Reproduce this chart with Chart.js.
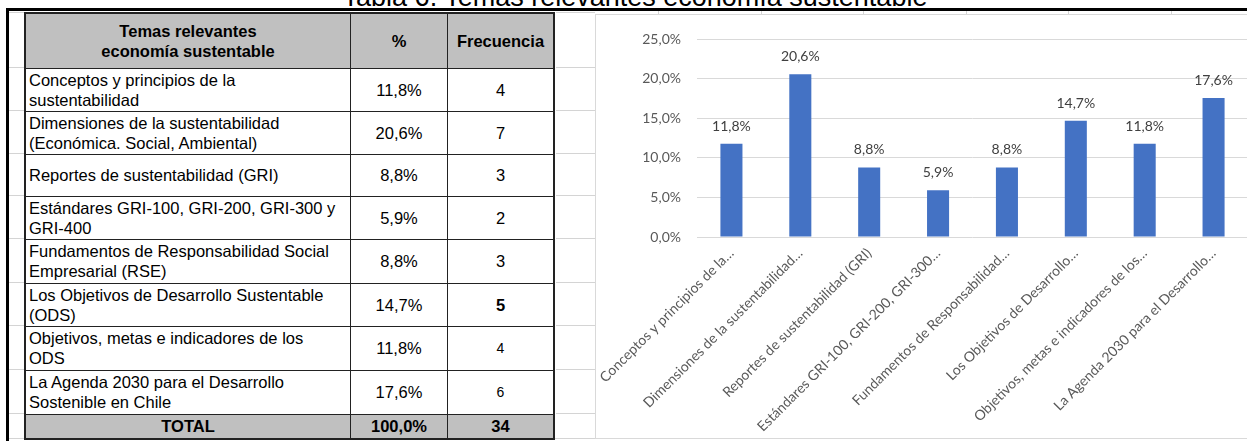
<!DOCTYPE html>
<html>
<head>
<meta charset="utf-8">
<script src="https://cdn.jsdelivr.net/npm/chart.js@4.4.1/dist/chart.umd.min.js"></script>
<style>
html, body { margin: 0; padding: 0; background: #fff; }
body { width: 1247px; height: 441px; position: relative; overflow: hidden; font-family: "Liberation Sans", Arial, sans-serif; }
#title { position: absolute; left: 0; width: 1270px; top: -16px; text-align: center; font-size: 27px; line-height: 27px; color: #000; }
#hline { position: absolute; left: 6px; top: 8px; width: 1241px; height: 3px; background: #000; }
#vline { position: absolute; left: 6px; top: 8px; width: 3px; height: 433px; background: #000; }
.xl { position: absolute; background: #d4d4d4; }
#tbl { position: absolute; left: 24px; top: 12px; border-collapse: collapse; border: 2px solid #222; font-size: 16.5px; color: #000; }
#tbl td { border: 1px solid #222; padding: 0 3px; line-height: 20px; }
#tbl td.num { text-align: center; }
#tbl tr.head td, #tbl tr.total td { background: #c0c0c0; font-weight: bold; text-align: center; }
#tbl td.topic { white-space: pre-line; }
#box { position: absolute; left: 595px; top: 14px; width: 660px; height: 423px; border: 1px solid #d9d9d9; background: #fff; }
</style>
</head>
<body>
<div id="title">Tabla 6. Temas relevantes economía sustentable</div>
<div id="hline"></div>
<div id="vline"></div>
<div id="grid"></div>
<table id="tbl"></table>
<div id="box"><canvas id="temasChart" width="652" height="423"></canvas></div>

<script>
// datos de la tabla y del grafico
const topics = [
    'Conceptos y principios de la\nsustentabilidad',
    'Dimensiones de la sustentabilidad\n(Económica. Social, Ambiental)',
    'Reportes de sustentabilidad (GRI)',
    'Estándares GRI-100, GRI-200, GRI-300 y\nGRI-400',
    'Fundamentos de Responsabilidad Social\nEmpresarial (RSE)',
    'Los Objetivos de Desarrollo Sustentable\n(ODS)',
    'Objetivos, metas e indicadores de los\nODS',
    'La Agenda 2030 para el Desarrollo\nSostenible en Chile'
];
const chartLabels = [
    'Conceptos y principios de la…',
    'Dimensiones de la sustentabilidad…',
    'Reportes de sustentabilidad (GRI)',
    'Estándares GRI-100, GRI-200, GRI-300…',
    'Fundamentos de Responsabilidad…',
    'Los Objetivos de Desarrollo…',
    'Objetivos, metas e indicadores de los…',
    'La Agenda 2030 para el Desarrollo…'
];
const percentages = [11.8, 20.6, 8.8, 5.9, 8.8, 14.7, 11.8, 17.6];
const frequencies = [4, 7, 3, 2, 3, 5, 4, 6];
const totalPct = 100.0;
const totalFreq = 34;
const yTicks = [0, 5, 10, 15, 20, 25];

const fmt = v => v.toFixed(1).replace('.', ',') + '%';

// Build table
const rowHeights = [55, 43, 43, 42, 43, 44, 43, 44, 44, 25];
const tbl = document.getElementById('tbl');
let html = `<tr class="head" style="height:${rowHeights[0]}px">
    <td style="width:318px">Temas relevantes<br>economía sustentable</td>
    <td style="width:90px">%</td>
    <td style="width:99px">Frecuencia</td></tr>`;
topics.forEach((t, i) => {
    let fStyle = '';
    if (i === 5) fStyle = 'font-weight:bold';
    if (i >= 6) fStyle = 'font-size:14px';
    html += `<tr style="height:${rowHeights[i + 1]}px">
        <td class="topic">${t}</td>
        <td class="num">${fmt(percentages[i])}</td>
        <td class="num" style="${fStyle}">${frequencies[i]}</td></tr>`;
});
html += `<tr class="total" style="height:${rowHeights[9]}px">
    <td>TOTAL</td><td>${fmt(totalPct)}</td><td>${totalFreq}</td></tr>`;
tbl.innerHTML = html;

// faint spreadsheet gridlines around the table
const grid = document.getElementById('grid');
[12, 67, 110, 153, 195, 238, 282, 325, 369, 413, 438].forEach(y => {
    grid.innerHTML += `<div class="xl" style="left:9px;top:${y}px;width:15px;height:1px"></div>`;
    grid.innerHTML += `<div class="xl" style="left:556px;top:${y}px;width:39px;height:1px"></div>`;
});
grid.innerHTML += `<div class="xl" style="left:9px;top:438px;width:1238px;height:1px"></div>`;
[658, 761, 863, 966, 1068, 1171].forEach(x => {
    grid.innerHTML += `<div class="xl" style="left:${x}px;top:11px;width:1px;height:3px"></div>`;
});

// value labels above bars
const valueLabels = {
    id: 'valueLabels',
    afterDatasetsDraw(chart) {
        const ctx = chart.ctx;
        const meta = chart.getDatasetMeta(0);
        ctx.save();
        ctx.font = '14px Lato';
        ctx.fillStyle = '#404040';
        ctx.textAlign = 'center';
        ctx.textBaseline = 'alphabetic';
        meta.data.forEach((bar, i) => {
            ctx.fillText(fmt(percentages[i]), bar.x, bar.y - 13);
        });
        ctx.restore();
    }
};

const ctx = document.getElementById('temasChart').getContext('2d');
const temasChart = new Chart(ctx, {
    type: 'bar',
    data: {
        labels: chartLabels,
        datasets: [{
            data: percentages,
            backgroundColor: '#4472c4',
            categoryPercentage: 1,
            barPercentage: 0.32
        }]
    },
    options: {
        responsive: false,
        animation: false,
        devicePixelRatio: 1,
        layout: { padding: { top: 18, right: 0, left: 0, bottom: 0 } },
        scales: {
            y: {
                min: 0,
                max: 25,
                afterBuildTicks: s => { s.ticks = yTicks.map(v => ({ value: v })); },
                afterFit: s => { s.width = 101; },
                border: { display: false },
                grid: { color: '#d9d9d9', drawTicks: false, lineWidth: 1 },
                ticks: {
                    padding: 16,
                    color: '#595959',
                    font: { family: 'Lato', size: 14 },
                    callback: v => fmt(v)
                }
            },
            x: {
                afterFit: s => { s.height = 201; },
                border: { display: false },
                grid: { display: false },
                ticks: {
                    autoSkip: false,
                    maxRotation: 45,
                    minRotation: 45,
                    padding: 0,
                    color: '#595959',
                    font: { family: 'Lato', size: 14 }
                }
            }
        },
        plugins: {
            legend: { display: false },
            tooltip: { enabled: false }
        }
    },
    plugins: [valueLabels]
});
</script>
</body>
</html>
